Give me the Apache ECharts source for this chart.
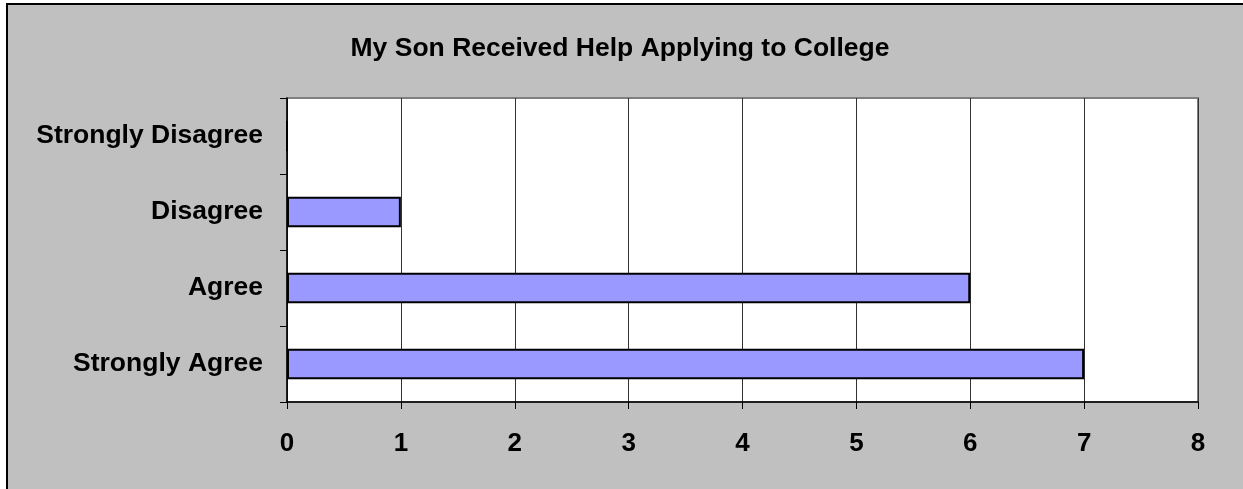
<!DOCTYPE html>
<html>
<head>
<meta charset="utf-8">
<script src="https://cdn.jsdelivr.net/npm/echarts@6/dist/echarts.min.js"></script>
<style>
  html, body { margin: 0; padding: 0; background: #fff; }
  #main { width: 1243px; height: 489px; }
</style>
</head>
<body>
<div id="main"></div>
<script>
// bottom to top, like the category axis draws them
var categories = ["Strongly Agree", "Agree", "Disagree", "Strongly Disagree"];
var counts = [7, 6, 1, 0];
var xTicks = [0, 1, 2, 3, 4, 5, 6, 7, 8];

var chartDom = document.getElementById("main");
var myChart = echarts.init(chartDom);
var option;

var font = "'Liberation Sans', Arial, sans-serif";

option = {
  animation: false,
  backgroundColor: "#fff",
  graphic: [
    {
      type: "rect",
      z: -10,
      silent: true,
      shape: { x: 7, y: 4, width: 1260, height: 500 },
      style: { fill: "#c0c0c0", stroke: "#000", lineWidth: 2 },
    },
  ],
  title: {
    text: "My Son Received Help Applying to College",
    left: 615,
    top: 30,
    textAlign: "center",
    textStyle: {
      fontFamily: font,
      fontWeight: "bold",
      fontSize: 26.5,
      color: "#000",
    },
  },
  grid: {
    left: 287,
    right: 45,
    top: 98,
    bottom: 87,
    show: true,
    backgroundColor: "#fff",
    borderColor: "#808080",
    borderWidth: 2,
  },
  xAxis: {
    type: "value",
    min: xTicks[0],
    max: xTicks[xTicks.length - 1],
    interval: 1,
    axisLine: { show: true, lineStyle: { color: "#000", width: 1.5 } },
    axisTick: { show: true, length: 7, lineStyle: { color: "#000" } },
    splitLine: { show: true, lineStyle: { color: "#333", width: 1 } },
    axisLabel: {
      margin: 29,
      fontFamily: font,
      fontWeight: "bold",
      fontSize: 26,
      color: "#000",
    },
  },
  yAxis: {
    type: "category",
    data: categories,
    axisLine: { show: true, lineStyle: { color: "#000", width: 1.5 } },
    axisTick: { show: true, length: 7, lineStyle: { color: "#000" } },
    axisLabel: {
      margin: 24,
      fontFamily: font,
      fontWeight: "bold",
      fontSize: 26.5,
      color: "#000",
    },
  },
  series: [
    {
      type: "bar",
      data: counts,
      barWidth: "40%",
      itemStyle: {
        color: "#9999ff",
        borderColor: "#000",
        borderWidth: 2,
      },
    },
  ],
};

option && myChart.setOption(option);
</script>
</body>
</html>
